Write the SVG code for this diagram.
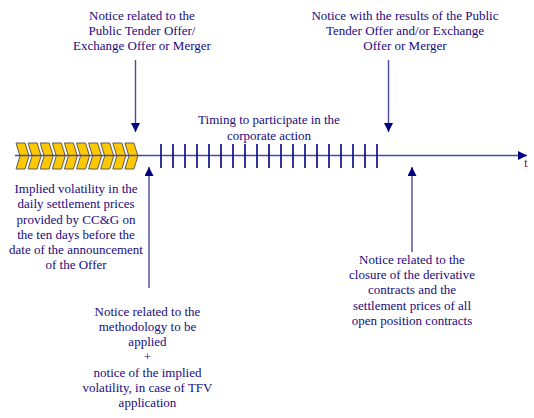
<svg xmlns="http://www.w3.org/2000/svg" width="534" height="418" viewBox="0 0 534 418">
<defs>
<style>
text{font-family:"Liberation Serif","Times New Roman",serif;font-size:13px;fill:#1a0a80;text-anchor:middle}
.chev{fill:#FFC800;stroke:#5a5a5a;stroke-width:1}
.tick{stroke:#000080;stroke-width:1.6}
.arr{stroke:#4848a0;stroke-width:1.4;fill:none}
</style>
<marker id="ah" viewBox="0 0 10 10" refX="10" refY="5" markerWidth="9" markerHeight="9" markerUnits="userSpaceOnUse" orient="auto">
<path d="M0,0 L10,5 L0,10 Z" fill="#000080"/>
</marker>
<polygon id="cv" class="chev" points="0,143 9,143 13,156 9,169 0,169 4,156"/>
</defs>
<g id="chevrons">
<use href="#cv" x="16"/><use href="#cv" x="28.1"/><use href="#cv" x="40.2"/><use href="#cv" x="52.3"/><use href="#cv" x="64.4"/>
<use href="#cv" x="76.5"/><use href="#cv" x="88.6"/><use href="#cv" x="100.7"/><use href="#cv" x="112.8"/><use href="#cv" x="124.9"/>
</g>
<g id="connectors">
<line class="arr" x1="15" y1="155.5" x2="527" y2="155.5" marker-end="url(#ah)"/>
<g id="ticks">
<line class="tick" x1="161" y1="144" x2="161" y2="168"/><line class="tick" x1="173" y1="144" x2="173" y2="168"/><line class="tick" x1="185" y1="144" x2="185" y2="168"/><line class="tick" x1="197" y1="144" x2="197" y2="168"/><line class="tick" x1="209" y1="144" x2="209" y2="168"/><line class="tick" x1="221" y1="144" x2="221" y2="168"/><line class="tick" x1="233" y1="144" x2="233" y2="168"/><line class="tick" x1="245" y1="144" x2="245" y2="168"/><line class="tick" x1="257" y1="144" x2="257" y2="168"/><line class="tick" x1="269" y1="144" x2="269" y2="168"/><line class="tick" x1="281" y1="144" x2="281" y2="168"/><line class="tick" x1="293" y1="144" x2="293" y2="168"/><line class="tick" x1="305" y1="144" x2="305" y2="168"/><line class="tick" x1="317" y1="144" x2="317" y2="168"/><line class="tick" x1="329" y1="144" x2="329" y2="168"/><line class="tick" x1="341" y1="144" x2="341" y2="168"/><line class="tick" x1="353" y1="144" x2="353" y2="168"/><line class="tick" x1="365" y1="144" x2="365" y2="168"/><line class="tick" x1="377" y1="144" x2="377" y2="168"/>
</g>
<line class="arr" x1="135.5" y1="60" x2="135.5" y2="132" marker-end="url(#ah)"/>
<line class="arr" x1="388.5" y1="60" x2="388.5" y2="132" marker-end="url(#ah)"/>
<line class="arr" x1="149" y1="288" x2="149" y2="167" marker-end="url(#ah)"/>
<line class="arr" x1="412" y1="252" x2="412" y2="167" marker-end="url(#ah)"/>
</g>
<g id="notice-offer">
<text x="142" y="20">Notice related to the</text>
<text x="142" y="35">Public  Tender Offer/</text>
<text x="142" y="50">Exchange Offer or Merger</text>
</g>
<g id="notice-results">
<text x="405" y="20">Notice  with the results of the Public</text>
<text x="405" y="35">Tender Offer and/or Exchange</text>
<text x="405" y="50">Offer or Merger</text>
</g>
<g id="timing">
<text x="269" y="124">Timing to participate in the</text>
<text x="269" y="140">corporate action</text>
</g>
<g id="time-label">
<text x="526" y="167" style="fill:#800020;font-size:12px">t</text>
</g>
<g id="implied-volatility">
<text x="76" y="193">Implied volatility in the</text>
<text x="76" y="208">daily settlement prices</text>
<text x="76" y="224">provided by CC&amp;G on</text>
<text x="76" y="239">the ten days before the</text>
<text x="76" y="254">date of the announcement</text>
<text x="76" y="269">of the Offer</text>
</g>
<g id="notice-methodology">
<text x="147.5" y="316">Notice related to the</text>
<text x="147.5" y="331">methodology to be</text>
<text x="147.5" y="346">applied</text>
<text x="147.5" y="361">+</text>
<text x="147.5" y="377">notice of the implied</text>
<text x="147.5" y="392">volatility, in case of TFV</text>
<text x="147.5" y="407">application</text>
</g>
<g id="notice-closure">
<text x="412" y="264">Notice related to the</text>
<text x="412" y="279">closure of the derivative</text>
<text x="412" y="294">contracts and the</text>
<text x="412" y="310">settlement prices of all</text>
<text x="412" y="325">open position contracts</text>
</g>
</svg>
